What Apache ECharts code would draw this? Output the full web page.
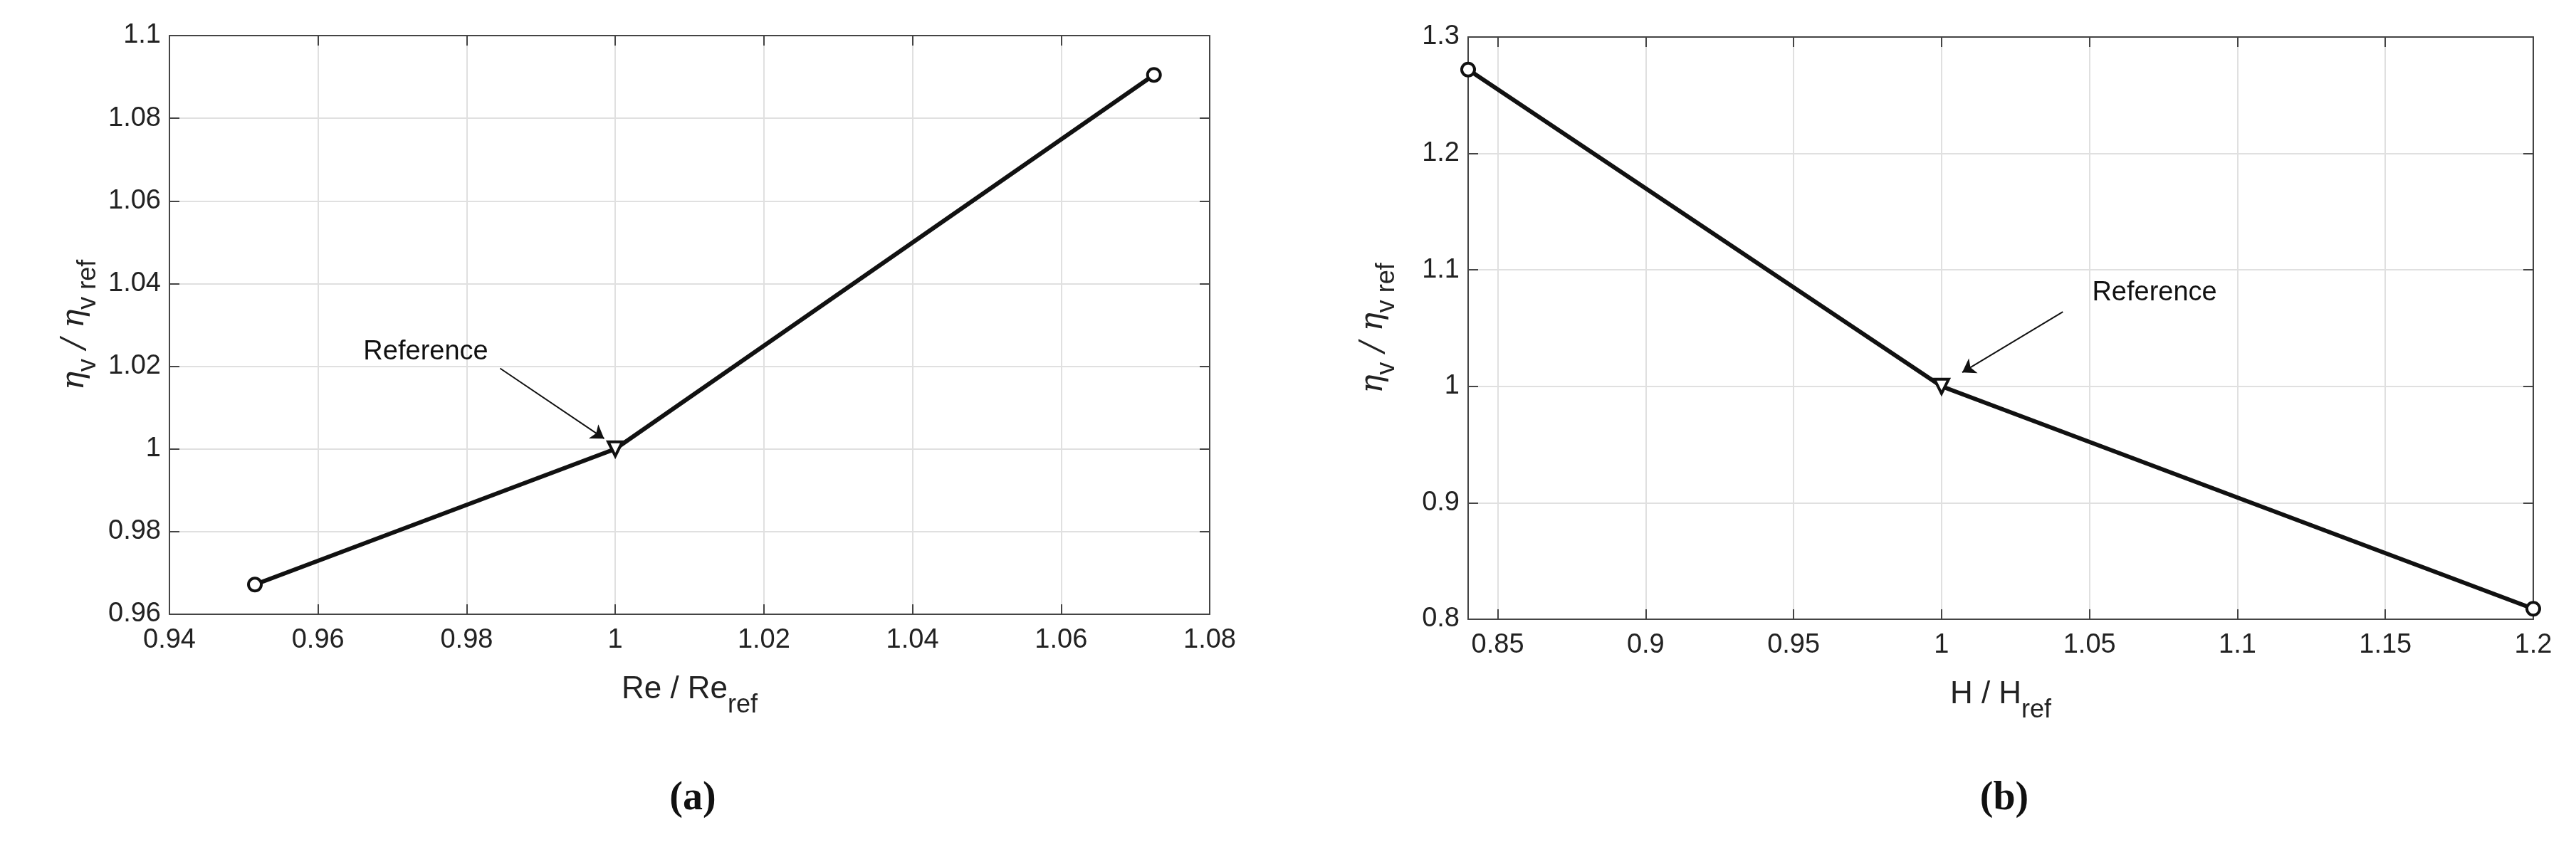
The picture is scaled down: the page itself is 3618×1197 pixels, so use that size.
<!DOCTYPE html>
<html><head><meta charset="utf-8">
<script src="https://cdn.jsdelivr.net/npm/echarts@6/dist/echarts.min.js"></script>
<style>html,body{margin:0;background:#fff}#main{width:3618px;height:1197px}</style>
</head><body><div id="main"></div>
<script>
var reX = [0.9515, 1, 1.0725];
var reY = [0.9672, 1, 1.0905];
var hX = [0.84, 1, 1.2];
var hY = [1.272, 1, 0.809];
var reXTicks = [0.94, 0.96, 0.98, 1, 1.02, 1.04, 1.06, 1.08];
var reYTicks = [0.96, 0.98, 1, 1.02, 1.04, 1.06, 1.08, 1.1];
var hXTicks = [0.85, 0.9, 0.95, 1, 1.05, 1.1, 1.15, 1.2];
var hYTicks = [0.8, 0.9, 1, 1.1, 1.2, 1.3];

var font = 'Liberation Sans';
var myChart = echarts.init(document.getElementById('main'));

function fmt(v) { return String(+v.toFixed(3)); }
function xAx(idx, min, max, iv, name) {
  return [{
    gridIndex: idx, type: 'value', min: min, max: max, interval: iv,
    name: name, nameLocation: 'middle', nameGap: 66,
    nameTextStyle: { fontFamily: font, fontSize: 44, color: '#222',
      rich: { s: { fontFamily: font, fontSize: 36, color: '#222', padding: [44, 0, 0, 0] } } },
    axisLine: { lineStyle: { color: '#444', width: 2 } },
    axisTick: { inside: true, length: 14, lineStyle: { color: '#444', width: 2 } },
    axisLabel: { fontFamily: font, fontSize: 38, color: '#222', margin: 18, formatter: fmt },
    splitLine: { show: true, lineStyle: { color: '#e0e0e0', width: 2 } }
  }, {
    gridIndex: idx, type: 'value', min: min, max: max, interval: iv, position: 'top',
    axisLine: { lineStyle: { color: '#444', width: 2 } },
    axisTick: { inside: true, length: 14, lineStyle: { color: '#444', width: 2 } },
    axisLabel: { show: false }, splitLine: { show: false }
  }];
}
function yAx(idx, min, max, iv) {
  return [{
    gridIndex: idx, type: 'value', min: min, max: max, interval: iv,
    name: '{e|η}{s|v}{e| / η}{s|v ref}', nameLocation: 'middle', nameGap: 110,
    nameTextStyle: { rich: {
      e: { fontFamily: 'DejaVu Serif', fontStyle: 'italic', fontSize: 44, color: '#222' },
      s: { fontFamily: font, fontSize: 36, color: '#222', verticalAlign: 'bottom', padding: [0, 0, -14, 0] } } },
    axisLine: { lineStyle: { color: '#444', width: 2 } },
    axisTick: { inside: true, length: 14, lineStyle: { color: '#444', width: 2 } },
    axisLabel: { fontFamily: font, fontSize: 38, color: '#222', margin: 12, formatter: fmt },
    splitLine: { show: true, lineStyle: { color: '#e0e0e0', width: 2 } }
  }, {
    gridIndex: idx, type: 'value', min: min, max: max, interval: iv, position: 'right',
    axisLine: { lineStyle: { color: '#444', width: 2 } },
    axisTick: { inside: true, length: 14, lineStyle: { color: '#444', width: 2 } },
    axisLabel: { show: false }, splitLine: { show: false }
  }];
}
function pts(xs, ys) { return xs.map(function (x, i) { return [x, ys[i]]; }); }
function lineSeries(idx, xs, ys, arrow, txt) {
  return {
    type: 'line', xAxisIndex: idx * 2, yAxisIndex: idx * 2,
    data: pts(xs, ys).map(function (p, i) {
      return { value: p, symbol: i === 1 ? 'triangle' : 'circle', symbolRotate: i === 1 ? 180 : 0,
        symbolSize: i === 1 ? 20 : 18 };
    }),
    lineStyle: { color: '#111', width: 6 },
    itemStyle: { color: '#fff', borderColor: '#111', borderWidth: 4 },
    markLine: { silent: true, symbol: ['none', 'arrow'], symbolSize: 18,
      lineStyle: { color: '#111', width: 2, type: 'solid' }, label: { show: false },
      data: [[{ coord: arrow[0] }, { coord: arrow[1] }]] },
    markPoint: { symbol: 'circle', symbolSize: 1, itemStyle: { color: 'transparent' },
      label: { show: true, formatter: 'Reference', fontFamily: font, fontSize: 38, color: '#111' },
      data: [{ coord: txt }] },
    z: 3
  };
}
option = {
  animation: false,
  backgroundColor: '#fff',
  title: [
    { text: '(a)', left: 968, top: 1090, textAlign: 'center',
      textStyle: { fontFamily: 'Liberation Serif', fontWeight: 'bold', fontSize: 56, color: '#111' } },
    { text: '(b)', left: 2810, top: 1090, textAlign: 'center',
      textStyle: { fontFamily: 'Liberation Serif', fontWeight: 'bold', fontSize: 56, color: '#111' } }
  ],
  grid: [
    { left: 238, width: 1461, top: 50, height: 813 },
    { left: 2062, width: 1496, top: 52, height: 818 }
  ],
  xAxis: xAx(0, 0.94, 1.08, 0.02, 'Re / Re{s|ref}').concat(xAx(1, 0.84, 1.2, 0.05, 'H / H{s|ref}')),
  yAxis: yAx(0, 0.96, 1.1, 0.02).concat(yAx(1, 0.8, 1.3, 0.1)),
  series: [
    lineSeries(0, reX, reY, [[0.9845, 1.0195], [0.9985, 1.0025]], [0.9745, 1.0235]),
    lineSeries(1, hX, hY, [[1.041, 1.064], [1.007, 1.012]], [1.072, 1.08])
  ]
};
// x axis for chart b starts at 0.84, not a multiple of 0.05: use custom ticks
option.xAxis[2].interval = undefined;
option.xAxis[2].axisTick.customValues = hXTicks;
option.xAxis[2].axisLabel.customValues = hXTicks;
option.xAxis[2].splitLine.customValues = hXTicks;
option.xAxis[3].interval = undefined;
option.xAxis[3].axisTick.customValues = hXTicks;
myChart.setOption(option);
</script></body></html>
